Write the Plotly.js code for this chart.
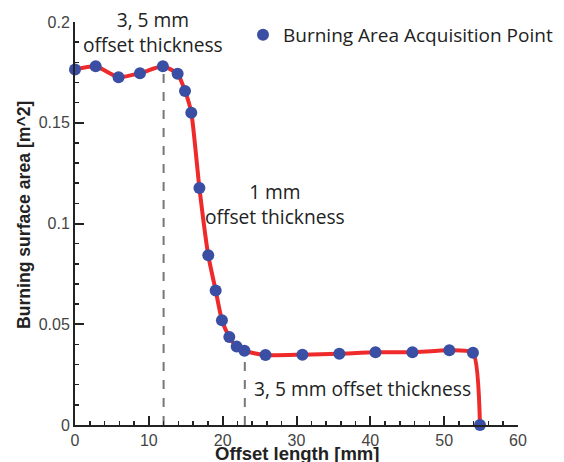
<!DOCTYPE html>
<html><head><meta charset="utf-8">
<script src="https://cdn.plot.ly/plotly-3.0.1.min.js"></script>
<style>html,body{margin:0;padding:0;background:#fff}</style>
</head><body><div id="chart" style="width:564px;height:462px"></div>
<script>
const offsetLength = [0, 2.8, 5.9, 8.8, 11.9, 13.9, 14.9, 15.75, 16.85, 18.05, 19.05, 19.9, 20.9, 21.9, 22.95, 25.8, 30.8, 35.8, 40.7, 45.7, 50.7, 53.9, 54.85];
const burningArea = [0.1764, 0.178, 0.1726, 0.1746, 0.178, 0.1743, 0.1658, 0.155, 0.1176, 0.0842, 0.0668, 0.052, 0.0437, 0.0389, 0.0368, 0.0347, 0.0349, 0.0354, 0.0361, 0.0361, 0.0371, 0.0358, 0];
const markerLabel = "Burning Area Acquisition Point";
const xTitle = "Offset length [mm]";
const yTitle = "Burning surface area [m^2]";
const guideX = [12, 23];
const guideTop = [0.178, 0.0368];
const notes = [
  {x: 10.6, y: 0.195, text: "3, 5 mm<br>offset thickness"},
  {x: 27.1, y: 0.1096, text: "1 mm<br>offset thickness"},
  {x: 38.9, y: 0.018, text: "3, 5 mm offset thickness"}
];

const txtFont = {family: "Open Sans, Noto Sans, sans-serif", size: 19.2, color: "#222"};
const titleFont = {family: "Liberation Sans, Arial, sans-serif", size: 18.5, color: "#222", weight: "bold"};

const traces = [
  {x: offsetLength, y: burningArea, mode: "lines", type: "scatter",
   line: {color: "#ee2a2a", width: 4, shape: "spline", smoothing: 0.55},
   showlegend: false, cliponaxis: false, hoverinfo: "skip"},
  {x: offsetLength, y: burningArea, mode: "markers", type: "scatter", name: markerLabel,
   marker: {color: "#3a4ea3", size: 12}, cliponaxis: false}
];

const shapes = guideX.map((gx, i) => ({
  type: "line", xref: "x", yref: "y", x0: gx, x1: gx, y0: 0, y1: guideTop[i],
  line: {color: "#777", width: 2, dash: "dash"}, layer: "below"
}));

const annotations = notes.map(n => ({
  x: n.x, y: n.y, xref: "x", yref: "y", text: n.text, showarrow: false,
  font: txtFont, align: "center", xanchor: "center", yanchor: "middle"
}));
annotations.push({x: 0.5, y: 0, xref: "paper", yref: "paper", yshift: -28, text: xTitle,
  showarrow: false, font: titleFont, xanchor: "center", yanchor: "middle"});
annotations.push({x: 0, y: 0.5, xref: "paper", yref: "paper", xshift: -51.5, yshift: 8, text: yTitle,
  showarrow: false, font: Object.assign({}, titleFont, {size: 17.6}), xanchor: "center", yanchor: "middle", textangle: -90});

const axisCommon = {
  showline: true, linecolor: "#222", linewidth: 2, mirror: false,
  ticks: "inside", ticklen: 9, tickwidth: 2, tickcolor: "#222",
  showgrid: false, zeroline: false,
  tickfont: {family: "Liberation Sans, Arial, sans-serif", size: 16, color: "#444"}
};

const layout = {
  width: 564, height: 462,
  margin: {l: 75, r: 46, t: 22, b: 37, autoexpand: false},
  paper_bgcolor: "#fff", plot_bgcolor: "#fff",
  xaxis: Object.assign({}, axisCommon, {
    range: [0, 60], dtick: 10, tick0: 0,
    minor: {dtick: 2, ticks: "inside", ticklen: 4, tickwidth: 1.5, tickcolor: "#222"}
  }),
  yaxis: Object.assign({}, axisCommon, {
    range: [0, 0.2], dtick: 0.05, tick0: 0,
    minor: {dtick: 0.01, ticks: "inside", ticklen: 4, tickwidth: 1.5, tickcolor: "#222"}
  }),
  legend: {x: (243-75)/443, y: 1.015, xanchor: "left", yanchor: "top", bgcolor: "rgba(0,0,0,0)",
    font: {family: "Open Sans, Noto Sans, sans-serif", size: 19, color: "#222"}},
  shapes: shapes,
  annotations: annotations
};

Plotly.newPlot("chart", traces, layout, {displayModeBar: false, staticPlot: true});
</script>
</body></html>
